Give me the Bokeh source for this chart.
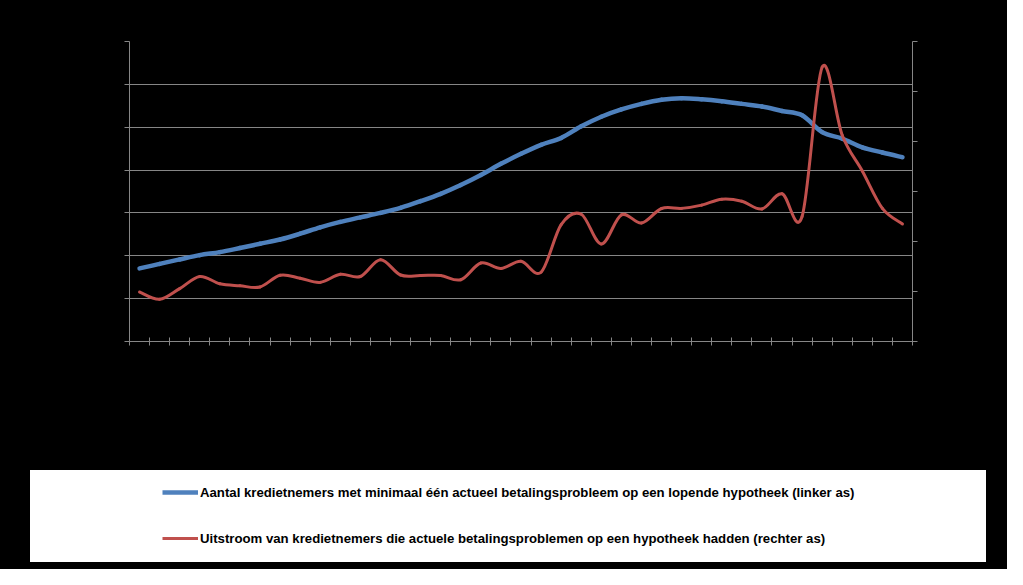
from bokeh.plotting import figure
from bokeh.models import (Range1d, LinearAxis, FixedTicker, Grid, Legend, LegendItem,
                          ColumnDataSource, CustomJSTickFormatter)
from bokeh.layouts import column
from bokeh.embed import file_html
from bokeh.resources import INLINE

# 39 quarterly periods (labels not legible in the reference)
periods = list(range(39))

borrowers_with_arrears = [
    34100, 36200, 38300, 40300, 41700, 43600, 45600, 47600, 50300, 53300,
    55800, 57900, 60000, 62400, 65500, 68900, 73000, 77700, 82900, 87600,
    91800, 95000, 100400, 104900, 108300, 110900, 112800, 113500, 113000, 112100,
    110900, 109700, 107600, 105600, 97700, 94700, 90600, 88200, 86000,
]
outflow = [
    1980, 1690, 2115, 2600, 2310, 2230, 2180, 2650, 2530, 2365,
    2690, 2600, 3270, 2660, 2640, 2640, 2470, 3140, 2920, 3210,
    2770, 4675, 5090, 3900, 5065, 4740, 5320, 5325, 5455, 5690,
    5610, 5300, 5910, 5000, 10975, 8250, 6820, 5325, 4700,
]
left_ticks = [0, 20000, 40000, 60000, 80000, 100000, 120000, 140000]
right_ticks = [0, 2000, 4000, 6000, 8000, 10000, 12000]

label_blue = "Aantal kredietnemers met minimaal één actueel betalingsprobleem op een lopende hypotheek (linker as)"
label_red = "Uitstroom van kredietnemers die actuele betalingsproblemen op een hypotheek hadden (rechter as)"

BLUE = "#4F81BD"
RED = "#C0504D"
GRAY = "#868686"


def smooth_segments(xs, ys):
    """Catmull-Rom style bezier segments through the data points (Excel-like smoothing)."""
    n = len(xs)
    out = dict(x0=[], y0=[], x1=[], y1=[], cx0=[], cy0=[], cx1=[], cy1=[])
    for k in range(n - 1):
        km1 = max(k - 1, 0)
        kp2 = min(k + 2, n - 1)
        out["x0"].append(xs[k]); out["y0"].append(ys[k])
        out["x1"].append(xs[k + 1]); out["y1"].append(ys[k + 1])
        out["cx0"].append(xs[k] + (xs[k + 1] - xs[km1]) / 6)
        out["cy0"].append(ys[k] + (ys[k + 1] - ys[km1]) / 6)
        out["cx1"].append(xs[k + 1] - (xs[kp2] - xs[k]) / 6)
        out["cy1"].append(ys[k + 1] - (ys[kp2] - ys[k]) / 6)
    return out


xc = [i + 0.5 for i in periods]
sb = ColumnDataSource(smooth_segments(xc, borrowers_with_arrears))
sr = ColumnDataSource(smooth_segments(xc, outflow))
bez = dict(x0="x0", y0="y0", x1="x1", y1="y1", cx0="cx0", cy0="cy0", cx1="cx1", cy1="cy1")
blank = CustomJSTickFormatter(code="return ''")

# ---------------- main chart ----------------
p = figure(frame_width=783, frame_height=300,
           min_border_left=129, min_border_right=95,
           min_border_top=41, min_border_bottom=129,
           x_range=Range1d(0, len(periods)),
           y_range=Range1d(left_ticks[0], left_ticks[-1]),
           output_backend="svg", toolbar_location=None,
           background_fill_color="black", border_fill_color="black",
           outline_line_color=None)
p.extra_y_ranges = {"right": Range1d(right_ticks[0], right_ticks[-1])}

p.xgrid.visible = False
p.ygrid.visible = False
p.add_layout(Grid(dimension=1, ticker=FixedTicker(ticks=left_ticks[1:-1]),
                  grid_line_color=GRAY, grid_line_width=1))

for ax in [p.xaxis[0], p.yaxis[0]]:
    ax.axis_line_color = GRAY
    ax.major_tick_line_color = GRAY
    ax.minor_tick_line_color = None
    ax.formatter = blank
    ax.major_label_text_color = None

p.xaxis[0].ticker = FixedTicker(ticks=list(range(len(periods) + 1)))
p.xaxis[0].major_tick_in = 4
p.xaxis[0].major_tick_out = 4
p.yaxis[0].ticker = FixedTicker(ticks=left_ticks)
p.yaxis[0].major_tick_in = 0
p.yaxis[0].major_tick_out = 5

raxis = LinearAxis(y_range_name="right", ticker=FixedTicker(ticks=right_ticks),
                   axis_line_color=GRAY, major_tick_line_color=GRAY,
                   minor_tick_line_color=None, major_tick_in=0, major_tick_out=5,
                   formatter=blank, major_label_text_color=None)
p.add_layout(raxis, "right")

p.bezier(source=sb, line_color=BLUE, line_width=4.5, line_cap="round", **bez)
p.bezier(source=sr, line_color=RED, line_width=3, line_cap="round",
         y_range_name="right", **bez)

# ---------------- legend panel (white box) ----------------
lg = figure(width=956, height=92, min_border=0,
            x_range=Range1d(0, len(periods)),
            y_range=Range1d(left_ticks[0], left_ticks[-1]),
            x_axis_location=None, y_axis_location=None,
            output_backend="svg", toolbar_location=None,
            background_fill_color="white", border_fill_color="white",
            outline_line_color=None)
lg.background = "white"
lg.extra_y_ranges = {"right": Range1d(right_ticks[0], right_ticks[-1])}
lg.xgrid.visible = False
lg.ygrid.visible = False
lg.margin = (0, 21, 7, 30)
# legend keys: the same series, not drawn in this panel (visible=False)
kb = lg.bezier(source=sb, line_color=BLUE, line_width=4.5, visible=False, **bez)
kr = lg.bezier(source=sr, line_color=RED, line_width=3, y_range_name="right",
               visible=False, **bez)

legend = Legend(items=[LegendItem(label=label_blue, renderers=[kb]),
                       LegendItem(label=label_red, renderers=[kr])],
                location=(3, 14), orientation="vertical",
                background_fill_alpha=0, border_line_color=None,
                padding=0, margin=0, spacing=26, glyph_width=36, glyph_height=20,
                label_height=20, label_standoff=2,
                label_text_font="Liberation Sans", label_text_font_style="bold",
                label_text_font_size="13.2px", label_text_color="black")
lg.add_layout(legend)

layout = column(p, lg, spacing=0, background="black")

html = file_html(layout, INLINE)
html = html.replace("<body>", '<body style="background-color:#000000;">', 1)
open("out.html", "w").write(html)
